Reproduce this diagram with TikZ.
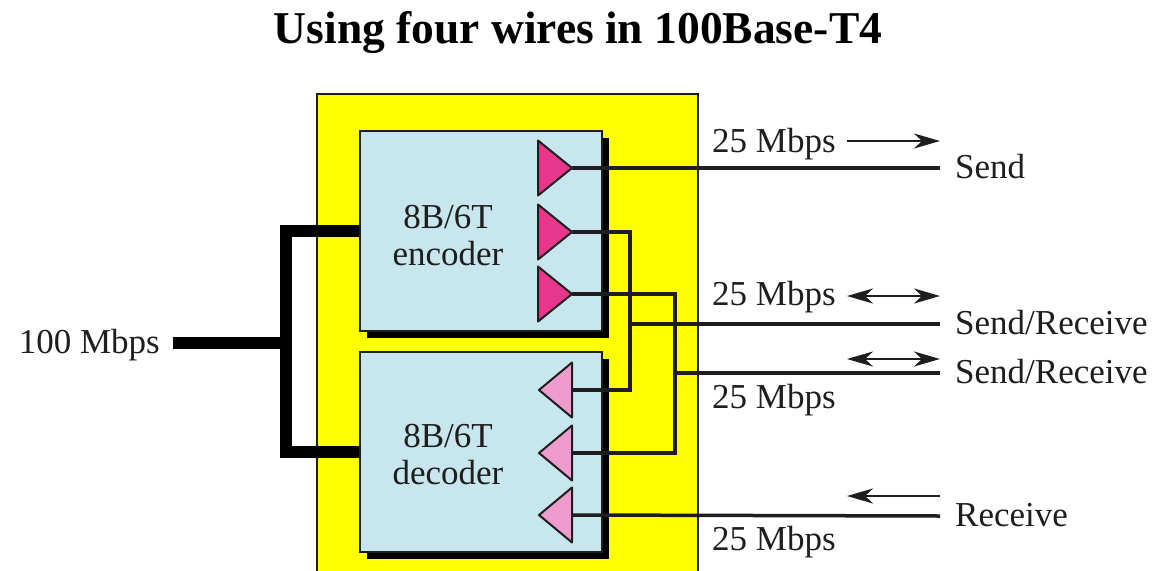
\documentclass[tikz,border=0pt]{standalone}
\usepackage{fontspec}
\setmainfont{Liberation Serif}
\usetikzlibrary{arrows.meta}
\definecolor{boardyellow}{RGB}{255,255,0}
\definecolor{devblue}{RGB}{200,230,238}
\definecolor{encpink}{RGB}{230,55,140}
\definecolor{decpink}{RGB}{240,155,205}
\definecolor{inkgray}{RGB}{30,30,30}
\tikzset{
  lbl/.style={font=\fontsize{35}{37}\selectfont, text=inkgray, inner sep=0pt},
  devbox/.style={draw=inkgray, line width=2pt, fill=devblue, minimum width=242pt,
    minimum height=200pt, inner sep=0pt},
  devtext/.style={align=center, inner sep=0pt, font=\fontsize{35}{37}\selectfont, text=inkgray},
  shadowbox/.style={fill=black},
  wire/.style={draw=inkgray, line width=3.5pt},
  bus/.style={draw=black, line width=12pt},
  flow/.style={draw=inkgray, line width=2.5pt},
  tip/.style={-{Stealth[length=26pt,width=15pt,inset=8pt]}},
  tips/.style={{Stealth[length=26pt,width=15pt,inset=8pt]}-{Stealth[length=26pt,width=15pt,inset=8pt]}},
  enctri/.style={fill=encpink, draw=inkgray, line width=2pt, line join=round},
  dectri/.style={fill=decpink, draw=inkgray, line width=2pt, line join=round}
}
\begin{document}
\begin{tikzpicture}[x=1pt,y=-1pt]
\useasboundingbox (0,0) rectangle (1158,570);
\fill[white] (0,0) rectangle (1158,570);

% title
\node[anchor=base, font=\bfseries\fontsize{45.5}{50}\selectfont, inner sep=0pt] (title) at (578,43) {Using four wires in 100Base-T4};

% board
\node[fill=boardyellow, draw=inkgray, line width=2pt, minimum width=381pt, minimum height=490pt, inner sep=0pt, anchor=north west] (board) at (316,93) {};

% device shadows
\fill[shadowbox] (367,138) rectangle (609,338);
\fill[shadowbox] (367,359) rectangle (609,559);

% devices
\node[devbox] (enc) at (481,231) {};
\node[devbox] (dec) at (481,452) {};
\node[devtext] (enctext) at (448,236) {8B/6T\\encoder};
\node[devtext] (dectext) at (448,455) {8B/6T\\decoder};

% encoder triangles (pointing right)
\foreach \n/\y in {1/168,2/232,3/294}{
  \draw[enctri] (538,\y-27.5) -- (572,\y) -- (538,\y+27.5) -- cycle;
  \coordinate (e\n) at (572,\y);
}
% decoder triangles (pointing left)
\foreach \n/\y in {1/390,2/453,3/515}{
  \draw[dectri] (572,\y-27.5) -- (539,\y) -- (572,\y+27.5) -- cycle;
  \coordinate (d\n) at (572,\y);
}

% right-hand line ends
\coordinate (send) at (940,168);
\coordinate (sr1) at (940,324);
\coordinate (sr2) at (940,373);
\coordinate (recv) at (940,516);
\coordinate (j1) at (630,324);
\coordinate (j2) at (675,373);

% wires
\draw[wire] (e1) -- (send);
\draw[wire] (e2) -- (630,232) -- (630,390) -- (d1);
\draw[wire] (j1) -- (sr1);
\draw[wire] (e3) -- (675,294) -- (675,453) -- (d2);
\draw[wire] (j2) -- (sr2);
\draw[wire] (d3) -- (recv);

% 100 Mbps input and bus
\node[lbl, anchor=base east] (inlbl) at (160,353) {100 Mbps};
\coordinate (inw) at (173,343);
\coordinate (bj) at (286,343);
\draw[bus] (enc.west) -- (286,231) -- (286,452) -- (dec.west);
\draw[bus] (inw) -- (bj);

% line labels
\node[lbl, anchor=base west] (lsend) at (955,178) {Send};
\node[lbl, anchor=base west] (lsr1) at (955,334) {Send/Receive};
\node[lbl, anchor=base west] (lsr2) at (955,383) {Send/Receive};
\node[lbl, anchor=base west] (lrecv) at (955,526) {Receive};

\node[lbl, anchor=base west] (r1) at (712,152) {25 Mbps};
\node[lbl, anchor=base west] (r2) at (712,305) {25 Mbps};
\node[lbl, anchor=base west] (r3) at (712,408) {25 Mbps};
\node[lbl, anchor=base west] (r4) at (712,550) {25 Mbps};

% direction arrows
\coordinate (a1s) at (847,141); \coordinate (a1e) at (940,141);
\coordinate (a2s) at (847,296); \coordinate (a2e) at (940,296);
\coordinate (a3s) at (847,359); \coordinate (a3e) at (940,359);
\coordinate (a4s) at (940,496); \coordinate (a4e) at (847,496);
\draw[flow, tip] (a1s) -- (a1e);
\draw[flow, tips] (a2s) -- (a2e);
\draw[flow, tips] (a3s) -- (a3e);
\draw[flow, tip] (a4s) -- (a4e);
\end{tikzpicture}
\end{document}
